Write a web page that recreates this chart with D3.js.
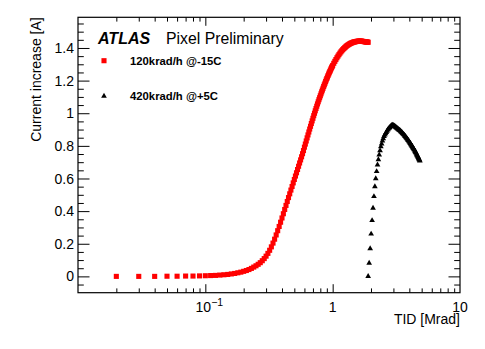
<!DOCTYPE html>
<html>
<head>
<meta charset="utf-8">
<script src="https://cdn.jsdelivr.net/npm/d3@7"></script>
<style>
  html, body { margin: 0; padding: 0; background: #fff; }
  svg { display: block; font-family: "Liberation Sans", Arial, Helvetica, sans-serif; }
</style>
</head>
<body>
<svg id="chart" width="485" height="349"></svg>
<script>
// ---------------- data ----------------
const redDose = [
  0.02,0.03,0.04,0.05,0.06,0.07,0.08,0.09,0.10,0.11,0.12,0.13,0.14,0.15,0.16,0.17,0.18,0.19,
  0.20,0.21,0.22,0.23,0.24,0.25,0.26,0.27,0.28,0.29,0.30,0.31,0.32,0.33,0.34,0.35,0.36,0.37,0.38,0.39,
  0.40,0.41,0.42,0.43,0.44,0.45,0.46,0.47,0.48,0.49,0.50,0.51,0.52,0.53,0.54,0.55,0.56,0.57,0.58,0.59,
  0.60,0.61,0.62,0.63,0.64,0.65,0.66,0.67,0.68,0.69,0.70,0.71,0.72,0.73,0.74,0.75,0.76,0.77,0.78,0.79,
  0.80,0.81,0.82,0.83,0.84,0.85,0.86,0.87,0.88,0.89,0.90,0.91,0.92,0.93,0.94,0.95,0.96,0.97,0.98,0.99,
  1.00,1.02,1.04,1.06,1.08,1.10,1.12,1.14,1.16,1.18,1.20,1.22,1.24,1.26,1.28,1.30,1.32,1.34,1.36,1.38,
  1.40,1.42,1.44,1.46,1.48,1.50,1.52,1.54,1.56,1.58,1.60,1.62,1.64,1.66,1.68,1.70,1.72,1.74,1.76,1.78,
  1.80,1.82,1.84,1.86,1.88,1.90
];
const redCurrent = [
  0.000,0.000,0.000,0.001,0.001,0.002,0.002,0.003,0.004,0.005,0.006,0.008,0.010,0.012,0.015,0.018,0.022,0.026,
  0.031,0.036,0.042,0.049,0.057,0.065,0.074,0.084,0.096,0.109,0.124,0.141,0.160,0.181,0.204,0.228,0.254,0.280,0.306,0.332,
  0.358,0.384,0.410,0.435,0.459,0.483,0.506,0.529,0.551,0.573,0.594,0.615,0.635,0.655,0.675,0.695,0.714,0.733,0.752,0.771,
  0.792,0.811,0.830,0.849,0.867,0.885,0.903,0.920,0.937,0.953,0.969,0.985,1.000,1.015,1.029,1.043,1.057,1.070,1.083,1.095,
  1.107,1.119,1.131,1.142,1.153,1.164,1.174,1.184,1.194,1.204,1.213,1.222,1.231,1.240,1.248,1.256,1.264,1.272,1.279,1.286,
  1.293,1.306,1.318,1.329,1.340,1.350,1.359,1.368,1.376,1.383,1.390,1.396,1.401,1.406,1.411,1.415,1.419,1.422,1.425,1.428,
  1.430,1.432,1.434,1.436,1.437,1.438,1.439,1.440,1.441,1.441,1.442,1.442,1.442,1.442,1.442,1.441,1.440,1.440,1.439,1.439,
  1.438,1.437,1.437,1.436,1.436,1.435
];
const blackDose = [
  1.900,1.935,1.970,2.005,2.040,2.075,2.110,2.145,2.180,2.215,2.250,2.285,2.320,2.355,2.390,2.425,2.460,2.495,2.530,2.565,
  2.600,2.635,2.670,2.705,2.740,2.775,2.810,2.845,2.880,2.915,2.950,2.985,3.020,3.055,3.090,3.125,3.160,3.195,3.230,3.265,
  3.300,3.335,3.370,3.405,3.440,3.475,3.510,3.545,3.580,3.615,3.650,3.685,3.720,3.755,3.790,3.825,3.860,3.895,3.930,3.965,
  4.000,4.035,4.070,4.105,4.140,4.175,4.210,4.245,4.280,4.315,4.350,4.385,4.420,4.455,4.490,4.525,4.560,4.595,4.630,4.665,
  4.700,4.735,4.770,4.805,4.840
];
const blackCurrent = [
  0.000,0.082,0.170,0.260,0.343,0.419,0.490,0.551,0.600,0.643,0.684,0.716,0.745,0.771,0.795,0.812,0.830,0.845,0.858,0.867,
  0.875,0.883,0.891,0.898,0.904,0.909,0.914,0.919,0.923,0.926,0.927,0.926,0.924,0.921,0.918,0.915,0.912,0.909,0.906,0.903,
  0.900,0.897,0.895,0.891,0.888,0.884,0.881,0.877,0.873,0.870,0.866,0.862,0.858,0.854,0.850,0.846,0.841,0.837,0.833,0.829,
  0.824,0.820,0.815,0.811,0.806,0.802,0.797,0.793,0.788,0.784,0.779,0.775,0.770,0.765,0.760,0.755,0.749,0.744,0.739,0.734,
  0.729,0.724,0.718,0.713,0.708
];
const seriesNames = ["120krad/h @-15C", "420krad/h @+5C"];
const yTickValues = [0, 0.2, 0.4, 0.6, 0.8, 1, 1.2, 1.4];
const yTickLabels = ["0", "0.2", "0.4", "0.6", "0.8", "1", "1.2", "1.4"];
const xTickValues = [0.1, 1, 10];
const xTickLabels = [["10", "\u22121"], ["1", ""], ["10", ""]];
const xMinorValues = [0.02,0.03,0.04,0.05,0.06,0.07,0.08,0.09,0.2,0.3,0.4,0.5,0.6,0.7,0.8,0.9,2,3,4,5,6,7,8,9];
const yMinorValues = [-0.05,0.05,0.1,0.15,0.25,0.3,0.35,0.45,0.5,0.55,0.65,0.7,0.75,0.85,0.9,0.95,1.05,1.1,1.15,1.25,1.3,1.35,1.45,1.5,1.55];
const xTitle = "TID [Mrad]";
const yTitle = "Current increase [A]";

// ---------------- layout ----------------
const svg = d3.select("#chart");
const L = 78, R = 460, T = 17.3, B = 292.7;
const x = d3.scaleLog().domain([0.01, 10]).range([L, R]);
const y = d3.scaleLinear().domain([-0.1, 1.588]).range([B, T]);

const majX = 8.5, minX = 4.3, majY = 11.5, minY = 5.8;

function axisGroup(axis, tx, ty) {
  const g = svg.append("g").attr("transform", `translate(${tx},${ty})`).call(axis);
  g.select(".domain").remove();
  g.selectAll("line").attr("stroke", "#000").attr("stroke-width", 1);
  g.selectAll("text").remove();
  return g;
}
// left
axisGroup(d3.axisLeft(y).tickValues(yTickValues).tickSize(-majY).tickSizeOuter(0), L, 0);
axisGroup(d3.axisLeft(y).tickValues(yMinorValues).tickSize(-minY).tickSizeOuter(0), L, 0);
// right
axisGroup(d3.axisRight(y).tickValues(yTickValues).tickSize(-majY).tickSizeOuter(0), R, 0);
axisGroup(d3.axisRight(y).tickValues(yMinorValues).tickSize(-minY).tickSizeOuter(0), R, 0);
// bottom
axisGroup(d3.axisBottom(x).tickValues(xTickValues.slice(0, 2)).tickSize(-majX).tickSizeOuter(0), 0, B);
axisGroup(d3.axisBottom(x).tickValues(xMinorValues).tickSize(-minX).tickSizeOuter(0), 0, B);
// top
axisGroup(d3.axisTop(x).tickValues(xTickValues.slice(0, 2)).tickSize(-majX).tickSizeOuter(0), 0, T);
axisGroup(d3.axisTop(x).tickValues(xMinorValues).tickSize(-minX).tickSizeOuter(0), 0, T);

// frame
svg.append("rect").attr("x", L).attr("y", T).attr("width", R - L).attr("height", B - T)
  .attr("fill", "none").attr("stroke", "#000").attr("stroke-width", 1.2);

// y tick labels
svg.append("g").selectAll("text").data(yTickValues).join("text")
  .attr("x", L - 4).attr("y", d => y(d)).attr("dy", "0.36em")
  .attr("text-anchor", "end").attr("font-size", 14).attr("fill", "#000")
  .text((d, i) => yTickLabels[i]);

// x tick labels
const xl = svg.append("g").selectAll("text").data(xTickValues).join("text")
  .attr("x", d => x(d)).attr("y", 311.5)
  .attr("text-anchor", "middle").attr("font-size", 14).attr("fill", "#000");
xl.each(function(d, i) {
  const t = d3.select(this);
  const lab = xTickLabels[i];
  t.append("tspan").text(lab[0]);
  if (lab[1]) t.append("tspan").attr("dy", -6).attr("font-size", 10.5).text(lab[1]);
});
xl.filter((d, i) => xTickLabels[i][1] !== "").attr("x", d => x(d) + 4);

// axis titles
svg.append("text").attr("x", R).attr("y", 323.5).attr("text-anchor", "end")
  .attr("font-size", 14).attr("fill", "#000").text(xTitle);
svg.append("text").attr("transform", `translate(41,${T}) rotate(-90)`).attr("text-anchor", "end")
  .attr("font-size", 14).attr("fill", "#000").text(yTitle);

// ---------------- data marks ----------------
const sq = d3.symbol().type(d3.symbolSquare).size(26);
const tri = d3.symbol().type(d3.symbolTriangle).size(14);
svg.append("g").selectAll("path").data(redDose).join("path")
  .attr("d", sq).attr("fill", "#ff0000")
  .attr("transform", (d, i) => `translate(${x(d)},${y(redCurrent[i])})`);
svg.append("g").selectAll("path").data(blackDose).join("path")
  .attr("d", tri).attr("fill", "#000")
  .attr("transform", (d, i) => `translate(${x(d)},${y(blackCurrent[i])})`);

// ---------------- labels & legend ----------------
svg.append("text").attr("x", 98).attr("y", 44).attr("font-size", 16)
  .attr("font-weight", "bold").attr("font-style", "italic").attr("fill", "#000").text("ATLAS");
svg.append("text").attr("x", 166).attr("y", 44).attr("font-size", 15.8)
  .attr("fill", "#000").text("Pixel Preliminary");

const legendY = [60.7, 96];
svg.append("path").attr("d", sq).attr("fill", "#ff0000").attr("transform", `translate(104,${legendY[0]})`);
svg.append("path").attr("d", tri).attr("fill", "#000").attr("transform", `translate(104,${legendY[1]})`);
svg.append("g").selectAll("text").data(seriesNames).join("text")
  .attr("x", 130).attr("y", (d, i) => legendY[i] + 3.8)
  .attr("font-size", 11.3).attr("font-weight", "bold").attr("fill", "#000").text(d => d);
</script>
</body>
</html>
